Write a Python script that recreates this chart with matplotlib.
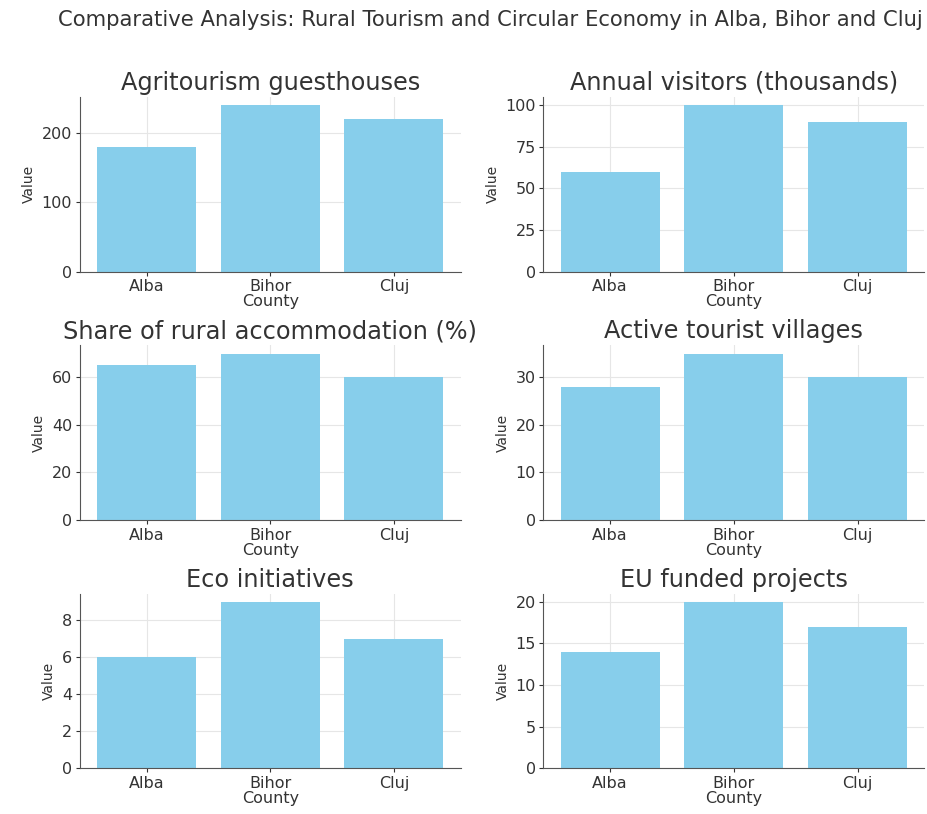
import matplotlib
matplotlib.use("Agg")
import matplotlib.pyplot as plt
from matplotlib.ticker import MaxNLocator

plt.rcParams['font.family'] = ['DejaVu Sans']

counties = ["Alba", "Bihor", "Cluj"]

titles = [
    "Agritourism guesthouses",
    "Annual visitors (thousands)",
    "Share of rural accommodation (%)",
    "Active tourist villages",
    "Eco initiatives",
    "EU funded projects",
]

guesthouses = [180, 240, 220]
visitors = [60, 100, 90]
rural_share = [65, 70, 60]
villages = [28, 35, 30]
eco = [6, 9, 7]
eu_projects = [14, 20, 17]

series = [guesthouses, visitors, rural_share, villages, eco, eu_projects]

fig, axes = plt.subplots(3, 2, figsize=(9.28, 8.14), dpi=100)
plt.subplots_adjust(left=0.086, right=0.996, top=0.881, bottom=0.056,
                    wspace=0.217, hspace=0.42)

for ax, title, vals in zip(axes.flat, titles, series):
    ax.set_axisbelow(True)
    ax.grid(True, color="#e6e6e6", linewidth=0.8)
    ax.bar(counties, vals, color="skyblue")
    ax.set_title(title, fontsize=17.3, color="#333333", pad=5)
    ax.set_xlabel("County", fontsize=11.5, color="#333333", labelpad=0)
    ax.set_ylabel("Value", fontsize=10, color="#333333")
    ax.yaxis.set_major_locator(MaxNLocator(nbins=5, steps=[1, 2, 2.5, 5, 10]))
    ax.tick_params(labelsize=11.5, colors="#333333", length=3, pad=2.5)
    for s in ["top", "right"]:
        ax.spines[s].set_visible(False)
    for s in ["left", "bottom"]:
        ax.spines[s].set_color("#555555")

fig.suptitle("Comparative Analysis: Rural Tourism and Circular Economy in Alba, Bihor and Cluj",
             fontsize=15.2, color="#333333", x=0.528, y=0.988)

fig.savefig("out.png", dpi=100)
